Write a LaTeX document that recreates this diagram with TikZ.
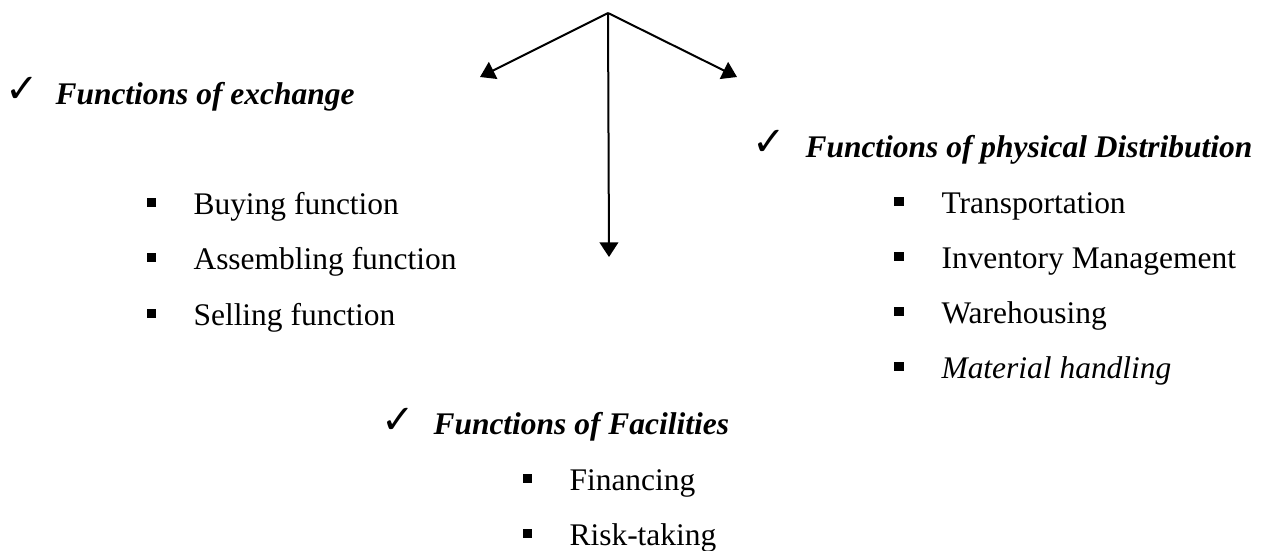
\documentclass[tikz,border=0pt]{standalone}
\usepackage{fontspec}
\setmainfont{Liberation Serif}
\newfontfamily\symfont{DejaVu Sans}
\usetikzlibrary{arrows.meta}
\begin{document}
\begin{tikzpicture}[x=0.375pt,y=-0.375pt,
  heading/.style={anchor=base west, inner sep=0pt, font=\fontsize{11.8}{14}\selectfont\bfseries\itshape},
  item/.style={anchor=base west, inner sep=0pt, font=\fontsize{11.8}{14}\selectfont},
  tick/.style={inner sep=0pt, font=\symfont\fontsize{15}{17}\selectfont},
  bullet/.style={fill=black, minimum size=3.4pt, inner sep=0pt},
  link/.style={line width=0.75pt, -{Triangle[length=5.5pt,width=7pt]}}]
\useasboundingbox (0,0) rectangle (1270,550);

% branching arrows
\coordinate (root) at (608,13);
\coordinate (tipL) at (480,77);
\coordinate (tipR) at (737,77);
\coordinate (tipD) at (609,257);
\draw[link] (root) -- (tipL);
\draw[link] (root) -- (tipR);
\draw[link] (root) -- (tipD);

% functions of exchange
\node[tick] (t1) at (22,90) {✓};
\node[heading] (h1) at (55,104) {Functions of exchange};
\node[bullet] (b11) at (151.5,202.5) {};
\node[item] (i11) at (193,214) {Buying function};
\node[bullet] (b12) at (151.5,257.5) {};
\node[item] (i12) at (193,269) {Assembling function};
\node[bullet] (b13) at (151.5,313.5) {};
\node[item] (i13) at (193,325) {Selling function};

% functions of physical distribution
\node[tick] (t2) at (769,143) {✓};
\node[heading] (h2) at (805,157) {Functions of physical Distribution};
\node[bullet] (b21) at (899,201.5) {};
\node[item] (i21) at (941,213) {Transportation};
\node[bullet] (b22) at (899,256.5) {};
\node[item] (i22) at (941,268) {Inventory Management};
\node[bullet] (b23) at (899,311.5) {};
\node[item] (i23) at (941,323) {Warehousing};
\node[bullet] (b24) at (899,366.5) {};
\node[item] (i24) at (941,378) {\itshape Material handling};

% functions of facilities
\node[tick] (t3) at (398,421) {✓};
\node[heading] (h3) at (433,434) {Functions of Facilities};
\node[bullet] (b31) at (527.5,478.5) {};
\node[item] (i31) at (569,490) {Financing};
\node[bullet] (b32) at (527.5,533.5) {};
\node[item] (i32) at (569,545) {Risk-taking};
\end{tikzpicture}
\end{document}
